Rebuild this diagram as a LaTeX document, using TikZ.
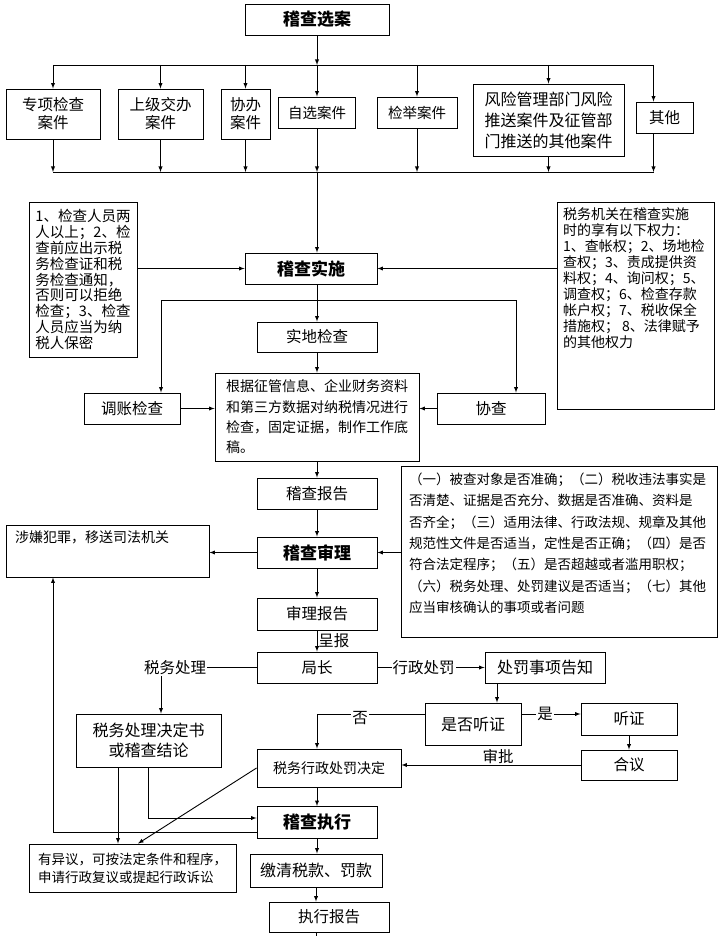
\documentclass[tikz,border=0pt]{standalone}
\usepackage{fontspec}
\setmainfont{Noto Sans CJK SC}
\usetikzlibrary{arrows}
\newcommand\fsz[2]{\fontsize{#1}{#2}\selectfont}

\begin{document}
\begin{tikzpicture}[x=1pt,y=-1pt,line width=0.9pt,>=latex,
  box/.style={draw,inner sep=2pt,align=center,font=\fsz{15.5}{18}},
  stage/.style={box,font=\fsz{17}{20}\bfseries},
  note/.style={draw,inner sep=4pt,align=left},
  pnote/.style={draw,inner sep=6pt},
  lbl/.style={fill=white,inner sep=1pt,font=\fsz{15.5}{18}},
  wh/.style 2 args={minimum width=#1,minimum height=#2}]
      \fill[white] (0,0) rectangle (722,936);
      \useasboundingbox (0,0) rectangle (722,936);
      \node[stage,wh={144}{31}] (sel) at (317,19.5) {稽查选案};
      \node[box,wh={94}{50}] (zx) at (53,114) {专项检查\\案件}; \node[box,wh={85}{50}] (sj) at (160.5,114) {上级交办\\案件}; \node[box,wh={49}{50}] (xb) at (245.5,114) {协办\\案件}; \node[box,wh={77}{31},font=\fsz{14.5}{18}] (zxa) at (317,112.5) {自选案件}; \node[box,wh={80}{31},font=\fsz{14.5}{18}] (jj) at (417,112.5) {检举案件}; \node[box,wh={151}{72},font=\fsz{16}{21}] (fx) at (548.5,120) {风险管理部门风险\\推送案件及征管部\\门推送的其他案件}; \node[box,wh={57}{31}] (qt) at (664.5,117.5) {其他};
      \coordinate (tb) at (0,65); \coordinate (bb) at (0,172);
      \draw[->] (sel) -- (sel |- tb); \draw (zx.north |- tb) -- ([xshift=-11]qt.north |- tb); \draw (zx.south |- bb) -- ([xshift=-11]qt.south |- bb);
      \foreach \n in {zx,sj,xb,zxa,jj,fx} {\draw[->] (\n.north |- tb) -- (\n.north); \draw[->] (\n.south) -- (\n.south |- bb);}
      \draw[->] ([xshift=-11]qt.north |- tb) -- ([xshift=-11]qt.north); \draw[->] ([xshift=-11]qt.south) -- ([xshift=-11]qt.south |- bb);

      \node[stage,wh={132}{31}] (ss) at (311,268.5) {稽查实施};
      \node[note,wh={108}{155},font=\fsz{14.5}{15.8}] (ln) at (83,279.5) {1、检查人员两\\人以上；2、检\\查前应出示税\\务检查证和税\\务检查通知，\\否则可以拒绝\\检查；3、检查\\人员应当为纳\\税人保密};
      \node[pnote,wh={157}{207},font=\fsz{14}{15.9}] (rn) at (635.5,305.5) {\parbox[c][195pt][t]{145pt}{税务机关在稽查实施\\时的享有以下权力：\\1、查帐权；2、场地检\\查权；3、责成提供资\\料权；4、询问权；5、\\调查权；6、检查存款\\帐户权；7、税收保全\\措施权； 8、法律赋予\\的其他权力}};
      \node[box,wh={120}{30}] (sd) at (317,337) {实地检查}; \node[box,wh={96}{31}] (tz) at (132,408.5) {调账检查}; \node[box,wh={108}{31}] (xc) at (491,408.5) {协查};
      \node[box,wh={204}{88},align=left,font=\fsz{14}{20.3}] (mb) at (317,417) {根据征管信息、企业财务资料\\和第三方数据对纳税情况进行\\检查，固定证据，制作工作底\\稿。};
      \draw[->] (zxa.south |- bb) -- (ss.north -| zxa); \draw[->] (ln.east |- ss) -- (ss.west); \draw[->] (rn.west |- ss) -- (ss.east); \draw[->] (ss.south -| sd) -- (sd.north);
      \coordinate (bl) at (161,300); \coordinate (br) at (516,300);
      \draw (bl) -- (br); \draw[->] (bl) -- (bl |- tz.north); \draw[->] (br) -- (br |- xc.north);
      \draw[->] (sd) -- (mb); \draw[->] (tz) -- (mb.west |- tz); \draw[->] (xc) -- (mb.east |- xc);

      \node[box,wh={120}{31}] (bg) at (317,493.5) {稽查报告}; \node[stage,wh={120}{31}] (sl) at (317,552.5) {稽查审理}; \node[box,wh={120}{32}] (sb) at (317,614) {审理报告};
      \node[pnote,wh={203}{52},font=\fsz{14}{18}] (fz) at (107.5,551) {\parbox[c][40pt][t]{185pt}{涉嫌犯罪，移送司法机关}};
      \node[pnote,wh={316}{171},inner sep=7pt,font=\fsz{13.5}{21.3}] (n2) at (559,551.5) {\parbox[c][157pt][t]{300pt}{（一）被查对象是否准确；（二）税收违法事实是\\否清楚、证据是否充分、数据是否准确、资料是\\否齐全；（三）适用法律、行政法规、规章及其他\\规范性文件是否适当，定性是否正确；（四）是否\\符合法定程序；（五）是否超越或者滥用职权；\\（六）税务处理、处罚建议是否适当；（七）其他\\应当审核确认的事项或者问题}};
      \draw[->] (mb) -- (bg); \draw[->] (bg) -- (sl); \draw[->] (n2.west |- sl) -- (sl.east); \draw[->] (sl) -- (sl -| fz.east); \draw[->] (sl) -- (sb);

      \node[box,wh={120}{31}] (jz) at (317,667.5) {局长}; \node[box,wh={120}{31},font=\fsz{16}{19}] (cf) at (545,667.5) {处罚事项告知};
      \node[box,wh={145}{53},font=\fsz{16}{20}] (jds) at (148.5,740.5) {税务处理决定书\\或稽查结论};
      \node[box,wh={96}{42},font=\fsz{16}{19}] (sftz) at (473,724) {是否听证}; \node[box,wh={96}{32}] (tzh) at (629,719) {听证}; \node[box,wh={96}{30}] (hy) at (629,765) {合议};
      \node[box,wh={144}{38},font=\fsz{14}{17}] (fa) at (329,768) {税务行政处罚决定};
      \node[stage,wh={120}{32}] (zxx) at (317,822.5) {稽查执行};
      \node[box,wh={207}{48},align=left,font=\fsz{13.5}{18}] (yy) at (132.5,868) {有异议，可按法定条件和程序，\\申请行政复议或提起行政诉讼};
      \node[box,wh={132}{33},font=\fsz{16}{19}] (jq) at (316,870.5) {缴清税款、罚款}; \node[box,wh={120}{30}] (zb) at (329,917) {执行报告};
      \coordinate (pb) at (316,936);

      \draw[->] (sb) -- node[right,inner sep=1pt,font=\fsz{15.5}{18}]{呈报} (jz);
      \draw[->] (jz.west) -| node[lbl,pos=0.5,xshift=14]{税务处理} ([xshift=12.5]jds.north);
      \draw[->] (jz) -- node[lbl,pos=0.43]{行政处罚} (cf);
      \draw[->] ([xshift=24]sftz.north |- cf.south) -- ([xshift=24]sftz.north);
      \draw[->] ([yshift=10]sftz.west) -| node[lbl,pos=0.3,yshift=-4]{否} (fa.north -| sd);
      \draw[->] ([yshift=10]sftz.east) -- node[lbl,pos=0.4]{是} ([yshift=10]sftz.east -| tzh.west);
      \draw[->] (tzh) -- (hy); \draw[->] (hy.west) -- node[above,pos=0.46,inner sep=1pt,font=\fsz{15.5}{18}]{审批} (hy.west -| fa.east);
      \draw[->] (fa.south -| sd) -- (zxx.north);
      \draw[->] ([xshift=-30.5]jds.south) -- ([xshift=-30.5]jds.south |- yy.north); \draw[->] (jds.south) |- ([yshift=4.5]zxx.west);
      \draw[->] (fa.west) -- ([xshift=5.5]yy.north); \draw[->] ([yshift=-9.5]zxx.west) -| (zx |- fz.south);
      \draw[->] (zxx.south) -- (zxx.south |- jq.north); \draw[->] (jq.south) -- (jq.south |- zb.north); \draw (jq.south |- zb.south) -- (pb);
    \end{tikzpicture}
\end{document}
